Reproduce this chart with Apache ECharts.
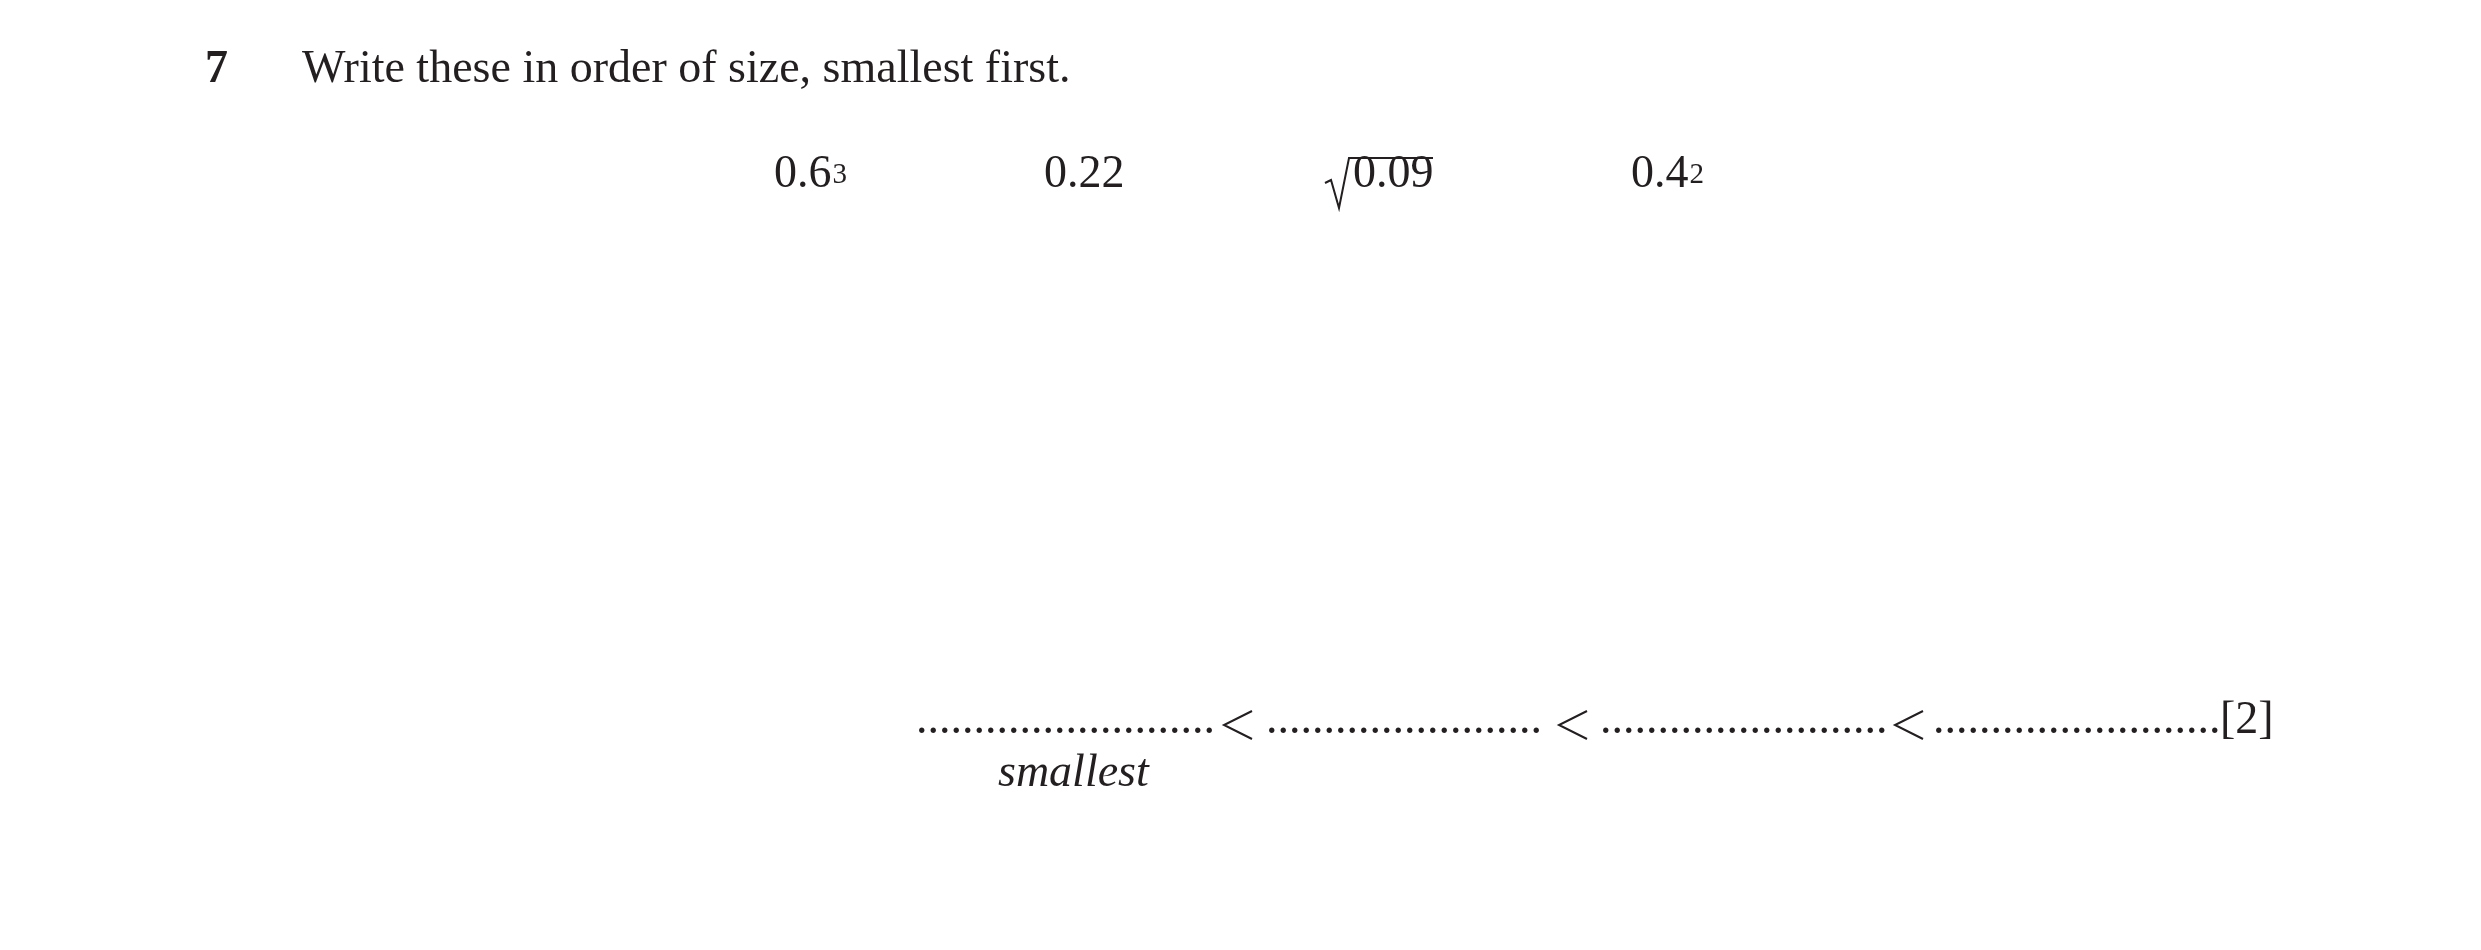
<!DOCTYPE html>
<html><head><meta charset="utf-8">
<script src="https://cdn.jsdelivr.net/npm/echarts@6/dist/echarts.min.js"></script>
<style>html,body{margin:0;background:#fff}#c{width:2481px;height:950px}</style>
</head><body><div id="c"></div>
<script>
const questionNumber = "7";
const questionText = "Write these in order of size, smallest first.";
const itemBases = ["0.6", "0.22", "0.09", "0.4"];
const itemPowers = ["3", "", "", "2"];
const itemIsRoot = [false, false, true, false];
const answerSlots = 4;
const marksLabel = "[2]";
const smallestLabel = "smallest";

const F = '"Liberation Serif","Times New Roman",serif';
const C = '#231f20';
const FS = 46;
const itemX = [774, 1044, 1353, 1631];
const slotX = [[916,1212],[1266,1546],[1600,1883],[1933,2220]];
const ltX = [1238, 1573, 1909];
const g = [];
g.push({type:'text', left:205, top:74-27, style:{text:questionNumber, font:'bold '+FS+'px '+F, fill:C}});
g.push({type:'text', left:302, top:74-27, style:{text:questionText, font:FS+'px '+F, fill:C}});
itemBases.forEach((b,i)=>{
  const txt = itemPowers[i] ? '{b|'+b+'}{s|'+itemPowers[i]+'}' : '{b|'+b+'}';
  g.push({type:'text', left:itemX[i], top:182-30, style:{text:txt, fill:C,
    rich:{b:{font:FS+'px '+F, fill:C, height:60, verticalAlign:'bottom'}, s:{font:Math.round(FS*0.62)+'px '+F, fill:C, height:60, verticalAlign:'top', padding:[0,0,0,1]}}}});
  if(itemIsRoot[i]){
    g.push({type:'polyline', shape:{points:[[itemX[i]-28,183],[itemX[i]-22,180],[itemX[i]-14,208],[itemX[i]-4,158],[itemX[i]+80,158]]}, style:{stroke:C, lineWidth:2, fill:null}});
  }
});
for(let k=0;k<answerSlots;k++){
  const [a,b]=slotX[k];
  const n=Math.round((b-a)/11.5);
  g.push({type:'text', left:a, top:725-27, style:{text:'.'.repeat(n), font:FS+'px '+F, fill:C}});
  if(k<answerSlots-1) g.push({type:'polyline', shape:{points:[[ltX[k]+14,711],[ltX[k]-14,725],[ltX[k]+14,739]]}, style:{stroke:C, lineWidth:2, fill:null}});
}
g.push({type:'text', left:2220, top:725-27, style:{text:marksLabel, font:FS+'px '+F, fill:C}});
g.push({type:'text', left:998, top:778-27, style:{text:smallestLabel, font:'italic '+FS+'px '+F, fill:C}});
const chart = echarts.init(document.getElementById('c'));
chart.setOption({backgroundColor:'#fff', graphic:g});
</script></body></html>
